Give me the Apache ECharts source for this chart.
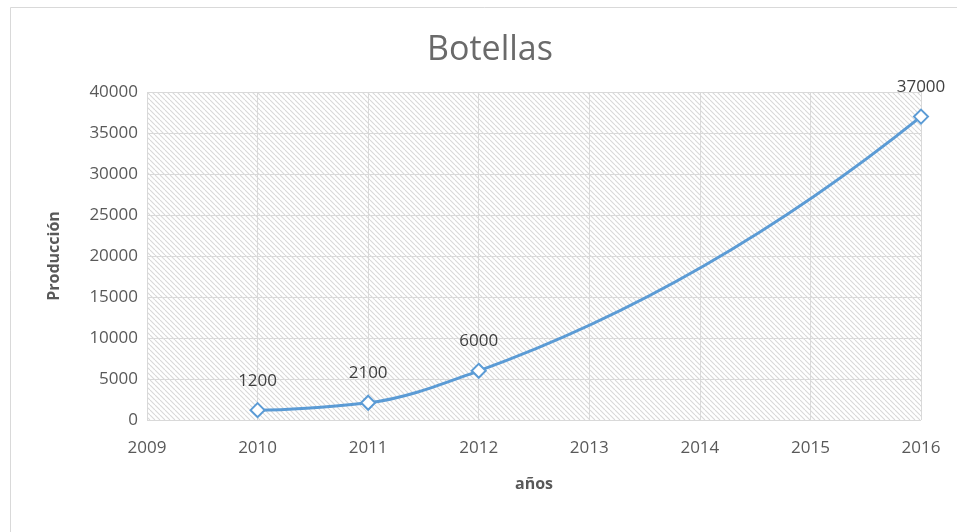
<!DOCTYPE html>
<html>
<head>
<meta charset="utf-8">
<script src="https://cdn.jsdelivr.net/npm/echarts@6/dist/echarts.min.js"></script>
<style>html,body{margin:0;padding:0;background:#fff}#c{width:957px;height:532px}</style>
</head>
<body>
<div id="c"></div>
<script>
const years = [2010, 2011, 2012, 2016];
const production = [1200, 2100, 6000, 37000];
const yTicks = [0, 5000, 10000, 15000, 20000, 25000, 30000, 35000, 40000];
const xTicks = [2009, 2010, 2011, 2012, 2013, 2014, 2015, 2016];

// hatch pattern tile
const tile = document.createElement('canvas');
const S = 5;
tile.width = S; tile.height = S;
const g = tile.getContext('2d');
g.fillStyle = '#ffffff';
g.fillRect(0, 0, S, S);
g.strokeStyle = '#d8d8d8';
g.lineWidth = 1.1;
for (const off of [-S, 0, S]) {
  g.beginPath();
  g.moveTo(off, 0);
  g.lineTo(off + S, S);
  g.stroke();
}

// monotone cubic (Fritsch–Butland / PCHIP) tangents, used to draw the smoothed line
function tangents(xs, ys) {
  const n = xs.length, h = [], d = [], m = new Array(n).fill(0);
  for (let i = 0; i < n - 1; i++) { h.push(xs[i + 1] - xs[i]); d.push((ys[i + 1] - ys[i]) / h[i]); }
  for (let i = 1; i < n - 1; i++) {
    if (d[i - 1] * d[i] > 0) {
      const w1 = 2 * h[i] + h[i - 1], w2 = h[i] + 2 * h[i - 1];
      m[i] = (w1 + w2) / (w1 / d[i - 1] + w2 / d[i]);
    }
  }
  const end = (h0, h1, d0, d1) => {
    let v = ((2 * h0 + h1) * d0 - h0 * d1) / (h0 + h1);
    if (Math.sign(v) !== Math.sign(d0)) v = 0;
    else if (Math.sign(d0) !== Math.sign(d1) && Math.abs(v) > Math.abs(3 * d0)) v = 3 * d0;
    return v;
  };
  m[0] = end(h[0], h[1], d[0], d[1]);
  m[n - 1] = end(h[n - 2], h[n - 3], d[n - 2], d[n - 3]);
  return m;
}
const slopes = tangents(years, production);

const chart = echarts.init(document.getElementById('c'), null, {renderer: 'canvas'});
const FONT = '"Open Sans", "DejaVu Sans", sans-serif';
const pts = years.map((y, i) => [y, production[i]]);
chart.setOption({
  animation: false,
  backgroundColor: '#ffffff',
  graphic: [{
    type: 'rect', left: 8, top: 5, silent: true,
    shape: {width: 960, height: 540},
    style: {fill: 'none', stroke: '#d9d9d9', lineWidth: 1}
  }],
  title: {
    text: 'Botellas', left: 422, top: 28,
    textStyle: {fontFamily: FONT, fontSize: 34, fontWeight: 'normal', color: '#6a6a6a'}
  },
  grid: {
    left: 147, right: 36, top: 92, bottom: 112, show: true,
    backgroundColor: {image: tile, repeat: 'repeat'}, borderWidth: 0
  },
  xAxis: {
    type: 'value', min: xTicks[0], max: xTicks[xTicks.length - 1], interval: 1,
    name: 'años', nameLocation: 'middle', nameGap: 56,
    nameTextStyle: {fontFamily: FONT, fontSize: 16, fontWeight: 'bold', color: '#595959'},
    axisLine: {show: false}, axisTick: {show: false},
    axisLabel: {fontFamily: FONT, fontSize: 17, color: '#595959', margin: 20, formatter: v => String(v)},
    splitLine: {show: true, lineStyle: {color: '#d9d9d9', width: 1}}
  },
  yAxis: {
    type: 'value', min: yTicks[0], max: yTicks[yTicks.length - 1], interval: 5000,
    name: 'Producción', nameLocation: 'middle', nameGap: 85,
    nameTextStyle: {fontFamily: FONT, fontSize: 16, fontWeight: 'bold', color: '#595959'},
    axisLine: {show: false}, axisTick: {show: false},
    axisLabel: {fontFamily: FONT, fontSize: 17, color: '#595959', margin: 9, formatter: v => String(v)},
    splitLine: {show: true, lineStyle: {color: '#d9d9d9', width: 1}}
  },
  series: [{
    type: 'custom',
    data: pts,
    silent: true,
    z: 2,
    renderItem: function (params, api) {
      const i = params.dataIndex;
      if (i >= pts.length - 1) return null;
      const x0 = years[i], x1 = years[i + 1], y0 = production[i], y1 = production[i + 1];
      const h = x1 - x0;
      const a = api.coord([x0, y0]);
      const c1 = api.coord([x0 + h / 3, y0 + slopes[i] * h / 3]);
      const c2 = api.coord([x1 - h / 3, y1 - slopes[i + 1] * h / 3]);
      const b = api.coord([x1, y1]);
      return {
        type: 'bezierCurve',
        shape: {x1: a[0], y1: a[1], cpx1: c1[0], cpy1: c1[1], cpx2: c2[0], cpy2: c2[1], x2: b[0], y2: b[1]},
        style: {fill: null, stroke: '#5b9bd5', lineWidth: 3, lineCap: 'round'}
      };
    }
  }, {
    type: 'scatter',
    data: pts,
    z: 3,
    symbol: 'diamond', symbolSize: 14,
    itemStyle: {color: '#ffffff', borderColor: '#5b9bd5', borderWidth: 2, opacity: 1},
    label: {
      show: true, position: 'top', distance: 13,
      fontFamily: FONT, fontSize: 17, color: '#404040',
      formatter: p => String(p.value[1])
    }
  }]
});
</script>
</body>
</html>
